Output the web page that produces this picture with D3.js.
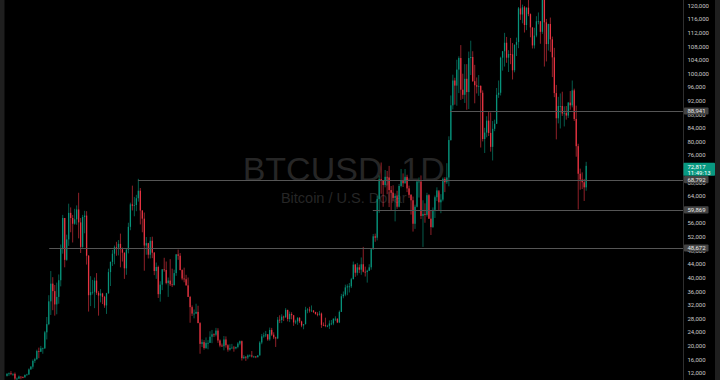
<!DOCTYPE html>
<html>
<head>
<meta charset="utf-8">
<script src="https://cdn.jsdelivr.net/npm/d3@7/dist/d3.min.js"></script>
<style>
  html, body { margin: 0; padding: 0; background: #000; }
  svg { display: block; }
</style>
</head>
<body>
<div id="chart"></div>
<script>
// BTCUSD weekly candles (values in thousands of USD), first week starts 2020-08-03
var firstWeek = Date.UTC(2020, 7, 3);
var firstOpenK = 11.1;

var closeK = [
  11.7, 11.85, 11.65, 11.7, 10.3, 10.3, 10.9, 10.75, 10.7, 11.4, 11.5, 13.0, 13.8, 15.5, 16.0, 18.4, 18.2, 19.2, 19.2, 23.9, 26.3, 33.0,
  38.2, 36.0, 32.1, 34.3, 39.2, 48.6, 57.5, 45.2, 51.2, 59.0, 57.5, 55.8, 57.1, 60.0, 56.2, 49.0, 57.8, 58.2, 46.4, 34.8, 35.7, 35.8, 39.1, 35.5,
  34.7, 35.3, 34.3, 31.8, 35.4, 41.6, 44.6, 47.0, 48.9, 48.8, 49.9, 48.3, 47.3, 42.7, 48.2, 54.9, 61.5, 61.1, 61.3, 63.3, 65.5, 59.7, 57.3, 49.4, 50.1, 46.7, 50.8, 47.3,
  41.9, 43.1, 35.1, 37.9, 42.4, 42.2, 38.4, 39.1, 38.0, 37.8, 41.3, 46.8, 46.4, 42.2, 39.7, 39.5, 37.7, 34.3, 31.3, 29.4, 29.4, 29.9, 26.6, 20.5, 21.0, 19.3,
  20.8, 20.8, 22.6, 23.3, 23.2, 24.4, 21.5, 20.0, 19.8, 21.8, 20.1, 18.8, 19.3, 19.4, 19.2, 19.6, 20.6, 21.3, 16.3, 16.7, 16.5, 17.1, 17.1, 16.8, 16.8, 16.6,
  17.1, 20.9, 22.7, 23.0, 23.3, 21.8, 24.6, 23.2, 22.4, 22.1, 27.6, 27.5, 28.5, 28.3, 30.5, 27.8, 29.3, 28.9, 26.8, 27.1, 28.1, 27.1, 25.9, 26.3, 30.5, 30.6,
  30.3, 30.3, 29.9, 29.3, 29.1, 29.4, 26.1, 26.0, 25.8, 25.8, 26.5, 26.5, 27.9, 27.9, 26.8, 29.9, 34.5, 35.0, 37.1, 37.4, 37.4, 39.5, 43.8, 41.4, 43.0, 42.3,
  43.9, 41.7, 41.6, 42.0, 43.0, 48.3, 52.1, 51.7, 63.1, 68.9, 68.4, 67.2, 69.6, 69.4, 65.7, 64.9, 63.4, 63.9, 60.8, 66.9, 68.5, 67.7, 69.6, 66.2, 64.3, 62.7,
  55.8, 60.8, 68.2, 68.2, 58.1, 58.7, 58.4, 64.2, 57.3, 54.8, 59.9, 63.6, 65.6, 62.1, 62.9, 69.0, 68.0, 69.4, 80.4, 90.6, 97.9, 96.4, 101.1, 104.5, 95.2, 93.7, 98.4,
  94.5, 104.5, 104.8, 97.7, 96.5, 96.1, 96.3, 94.3, 80.7, 82.6, 86.1, 82.5, 78.4, 83.7, 85.2, 93.7, 94.3, 104.6, 106.5, 109.0, 104.6, 105.7, 105.6, 100.9, 108.4, 109.2,
  119.1, 117.3, 119.4, 114.2, 119.3, 117.4, 113.5, 108.2, 111.1, 115.3, 115.3, 112.2, 123.5, 115.0, 108.6, 114.5, 110.0, 104.7, 94.2, 86.8, 90.4, 90.4, 88.2, 88.4, 87.6, 91.4,
  90.6, 95.0, 86.6, 78.6, 70.5, 68.8, 68.0, 66.5, 72.817
];

var highK = [
  11.9, 12.1, 12.5, 11.8, 12.1, 10.6, 11.2, 10.9, 10.95, 11.45, 11.7, 13.3, 14.0, 15.9, 16.4, 18.8, 19.4, 19.9, 19.4, 24.3, 28.4, 34.8,
  41.9, 40.1, 37.8, 38.5, 40.9, 49.7, 58.4, 57.5, 52.6, 61.7, 60.6, 58.4, 60.2, 61.2, 64.9, 57.5, 58.4, 59.6, 59.5, 46.6, 40.4, 39.3, 40.0, 41.3,
  36.0, 36.6, 35.5, 34.6, 35.5, 42.6, 44.7, 48.1, 49.4, 50.5, 51.0, 52.9, 48.8, 47.4, 48.4, 56.1, 62.0, 67.0, 63.7, 64.3, 69.0, 66.3, 59.8, 59.1, 51.9, 50.2, 51.9, 52.0,
  47.5, 44.4, 43.5, 38.9, 42.5, 45.8, 44.7, 40.0, 45.4, 42.6, 42.3, 46.9, 48.2, 47.2, 42.4, 42.9, 40.8, 40.0, 34.6, 31.8, 30.6, 32.3, 31.7, 26.9, 21.8, 21.6,
  22.4, 21.6, 24.2, 24.6, 23.6, 25.2, 25.1, 21.8, 20.6, 22.8, 22.7, 20.4, 20.4, 20.5, 19.9, 19.7, 21.0, 21.5, 21.5, 17.2, 16.9, 17.4, 17.4, 18.4, 17.0, 16.9,
  17.2, 21.3, 23.4, 23.8, 24.3, 23.4, 25.3, 25.2, 23.9, 22.6, 28.4, 28.9, 29.2, 28.8, 31.0, 30.5, 30.0, 29.8, 29.0, 27.6, 28.4, 28.4, 27.3, 26.3, 31.4, 31.0,
  31.4, 31.8, 30.4, 29.9, 29.8, 30.2, 29.7, 26.8, 28.2, 26.1, 27.4, 27.5, 28.0, 28.6, 28.0, 30.3, 35.2, 35.9, 37.9, 38.0, 38.4, 39.9, 44.7, 44.0, 44.3, 43.8,
  45.9, 49.0, 43.2, 42.3, 43.9, 48.6, 52.8, 52.9, 64.0, 70.0, 73.8, 68.4, 71.6, 71.3, 72.8, 66.9, 67.1, 64.7, 65.5, 67.5, 71.9, 70.6, 71.9, 70.2, 67.0, 64.5,
  63.8, 61.4, 68.4, 69.4, 70.0, 62.7, 61.8, 64.9, 64.5, 59.8, 60.6, 64.1, 66.5, 65.0, 64.5, 69.4, 69.5, 73.6, 81.5, 93.5, 99.6, 98.7, 104.0, 105.0, 108.3, 99.9, 102.7,
  102.7, 106.4, 109.6, 106.5, 102.5, 98.8, 99.5, 96.5, 95.0, 84.0, 87.4, 88.8, 88.5, 86.0, 86.4, 95.7, 97.9, 104.9, 106.6, 111.9, 110.7, 106.8, 110.4, 108.9, 108.5, 110.5,
  119.5, 123.2, 120.2, 119.8, 119.4, 124.5, 117.6, 113.5, 113.4, 116.8, 117.9, 115.3, 125.7, 126.2, 116.0, 114.6, 116.4, 110.8, 107.5, 96.6, 93.1, 94.1, 94.6, 90.3, 90.4, 91.6,
  94.8, 97.9, 95.5, 90.5, 79.3, 72.0, 70.9, 69.0, 74.0
];

var lowK = [
  10.9, 11.1, 11.3, 11.1, 9.9, 9.9, 10.2, 10.1, 10.4, 10.5, 11.2, 11.4, 12.9, 13.2, 14.9, 15.8, 16.3, 18.1, 17.6, 19.0, 21.8, 26.0,
  29.0, 30.4, 28.8, 29.2, 32.3, 37.4, 47.0, 43.0, 44.9, 49.3, 53.3, 50.3, 55.5, 55.5, 51.5, 47.2, 48.7, 53.0, 43.8, 30.0, 31.6, 35.0, 31.0, 34.9,
  28.8, 32.7, 32.2, 31.1, 29.3, 35.2, 37.5, 43.4, 43.9, 46.4, 46.5, 43.0, 44.7, 39.6, 40.8, 47.1, 53.9, 59.7, 58.0, 59.5, 62.3, 55.6, 53.3, 42.0, 46.7, 45.6, 45.6, 45.7,
  40.7, 39.6, 34.0, 32.9, 36.3, 41.7, 38.0, 34.3, 37.5, 37.2, 37.6, 40.5, 45.2, 42.1, 39.2, 38.6, 37.6, 34.3, 26.7, 28.7, 28.0, 29.3, 26.6, 17.6, 19.6, 18.8,
  19.0, 18.9, 20.8, 20.7, 22.5, 22.7, 20.8, 19.5, 19.6, 18.6, 19.4, 18.2, 18.5, 19.1, 18.2, 18.9, 19.2, 20.1, 15.6, 16.0, 15.5, 16.0, 16.7, 16.5, 16.4, 16.3,
  16.5, 17.1, 20.4, 22.3, 22.5, 21.4, 21.4, 22.8, 21.9, 19.6, 21.9, 26.6, 26.6, 27.2, 28.2, 27.1, 26.9, 27.7, 25.8, 26.3, 26.1, 26.6, 25.4, 24.8, 26.2, 29.5,
  29.7, 29.9, 29.6, 29.1, 28.6, 28.8, 25.2, 25.7, 25.4, 25.4, 24.9, 26.0, 26.0, 27.2, 26.6, 26.6, 29.9, 33.9, 34.5, 34.8, 35.6, 36.9, 39.5, 40.2, 40.6, 41.3,
  40.8, 41.5, 40.3, 38.5, 41.9, 42.3, 48.2, 50.5, 50.9, 59.0, 64.6, 60.8, 66.5, 64.5, 60.7, 59.6, 62.4, 56.5, 60.2, 60.6, 66.5, 66.6, 67.6, 65.1, 63.4, 58.5,
  53.5, 54.3, 60.6, 63.5, 57.2, 49.0, 56.1, 57.9, 57.2, 52.5, 54.6, 57.5, 62.5, 59.8, 58.9, 62.4, 65.1, 67.5, 66.8, 80.2, 89.4, 90.8, 90.5, 94.2, 92.2, 92.5, 91.3,
  89.3, 89.5, 99.5, 97.5, 91.2, 94.1, 93.4, 78.2, 80.0, 76.6, 81.2, 81.6, 77.0, 74.4, 83.0, 85.1, 92.8, 93.5, 100.8, 102.0, 103.1, 100.4, 102.7, 98.2, 100.3, 105.1,
  107.4, 115.7, 114.7, 112.0, 112.7, 116.8, 110.6, 107.3, 107.3, 110.6, 114.4, 108.7, 111.6, 102.0, 103.5, 106.7, 106.3, 98.9, 93.0, 80.6, 85.3, 83.8, 87.5, 84.4, 86.4, 86.9,
  89.3, 90.0, 86.0, 75.5, 60.0, 65.8, 66.0, 62.5, 65.5
];

// right price scale labels
var priceTicks = [12000, 16000, 20000, 24000, 28000, 32000, 36000, 40000, 44000, 48000, 52000, 56000,
  60000, 64000, 68000, 72000, 76000, 80000, 84000, 88000, 92000, 96000, 100000, 104000, 108000, 112000, 116000, 120000];

// horizontal rays drawn on the chart
var levelPrices = [88941, 68792, 59869, 48672];
var levelStarts = ["2024-11-12", "2021-11-10", "2024-02-14", "2021-01-02"];

var countdown = "11:49:13";
var symbolText = "BTCUSD, 1D";
var symbolName = "Bitcoin / U.S. Dollar";

var W = 720, H = 380;
var plotLeft = 4.5, plotRight = 683;

var candles = closeK.map(function(c, i) {
  return {
    date: d3.utcHour.offset(new Date(firstWeek), i * 168 + 84),
    open: (i === 0 ? firstOpenK : closeK[i - 1]) * 1000,
    high: highK[i] * 1000,
    low: lowK[i] * 1000,
    close: c * 1000
  };
});

var x = d3.scaleUtc()
  .domain([new Date(Date.UTC(2020, 6, 27)), new Date(Date.UTC(2027, 1, 9))])
  .range([4, plotRight]);

var y = d3.scaleLinear()
  .domain([12000, 120000])
  .range([372.8, 5.3]);

var svg = d3.select("#chart").append("svg")
  .attr("width", W)
  .attr("height", H);

svg.append("rect").attr("width", W).attr("height", H).attr("fill", "#000");

svg.append("defs").append("clipPath").attr("id", "plot")
  .append("rect").attr("x", plotLeft).attr("y", 0).attr("width", plotRight - plotLeft).attr("height", H);

// watermark
var wm = svg.append("g").attr("fill", "#262626").attr("text-anchor", "middle")
  .style("font-family", "'Liberation Sans', Arial, sans-serif");
wm.append("text").attr("x", (plotLeft + plotRight) / 2).attr("y", 181)
  .style("font-size", "34px").text(symbolText);
wm.append("text").attr("x", (plotLeft + plotRight) / 2).attr("y", 203)
  .style("font-size", "14.5px").text(symbolName);

var up = "#089981", down = "#f23645";
var colour = function(d) { return d.close >= d.open ? up : down; };

var plot = svg.append("g").attr("clip-path", "url(#plot)");

plot.append("g").selectAll("line")
  .data(candles)
  .join("line")
    .attr("x1", d => x(d.date))
    .attr("x2", d => x(d.date))
    .attr("y1", d => y(d.high))
    .attr("y2", d => y(d.low))
    .attr("stroke", colour)
    .attr("stroke-opacity", 0.85)
    .attr("stroke-width", 0.7);

plot.append("g").selectAll("rect")
  .data(candles)
  .join("rect")
    .attr("x", d => x(d.date) - 0.65)
    .attr("width", 1.3)
    .attr("y", d => Math.min(y(d.open), y(d.close)))
    .attr("height", d => Math.max(0.8, Math.abs(y(d.open) - y(d.close))))
    .attr("fill", colour)
    .attr("fill-opacity", 0.9);

// horizontal rays
plot.append("g").selectAll("line")
  .data(levelPrices)
  .join("line")
    .attr("x1", (d, i) => x(new Date(levelStarts[i])))
    .attr("x2", plotRight)
    .attr("y1", d => Math.round(y(d)) + 0.5)
    .attr("y2", d => Math.round(y(d)) + 0.5)
    .attr("stroke", "#555")
    .attr("stroke-width", 1);

// frame strips and scale separator
svg.append("rect").attr("x", 0).attr("width", plotLeft).attr("height", H).attr("fill", "#1f1f1f");
svg.append("rect").attr("x", 715).attr("width", 5).attr("height", H).attr("fill", "#1f1f1f");
svg.append("line").attr("x1", plotRight + 0.5).attr("x2", plotRight + 0.5).attr("y1", 0).attr("y2", H)
  .attr("stroke", "#2e2e2e");

// price scale
var axis = svg.append("g")
  .attr("transform", "translate(" + plotRight + ",0)")
  .call(d3.axisRight(y).tickValues(priceTicks).tickSize(0).tickPadding(4.5).tickFormat(d3.format(",")));
axis.select(".domain").remove();
axis.selectAll("text")
  .attr("fill", "#c9c9c9")
  .style("font-family", "Roboto, 'Liberation Sans', sans-serif")
  .style("font-size", "6px");

// ray price labels
var tags = svg.append("g").style("font-family", "Roboto, 'Liberation Sans', sans-serif").style("font-size", "6px");
levelPrices.forEach(function(p) {
  tags.append("rect").attr("x", plotRight + 1).attr("y", y(p) - 3.6).attr("width", 24.5).attr("height", 7.2)
    .attr("rx", 0.8).attr("fill", "#444");
  tags.append("text").attr("x", plotRight + 4.5).attr("y", y(p)).attr("dy", "0.35em")
    .attr("fill", "#e6e6e6").text(d3.format(",")(p));
});

// last price label with countdown
var last = candles[candles.length - 1].close;
tags.append("rect").attr("x", plotRight + 0.5).attr("y", y(last) - 3).attr("width", 31.5).attr("height", 13)
  .attr("rx", 0.8).attr("fill", up);
tags.append("text").attr("x", plotRight + 4.5).attr("y", y(last) + 0.8).attr("dy", "0.35em")
  .attr("fill", "#fff").text(d3.format(",.0f")(last));
tags.append("text").attr("x", plotRight + 4.5).attr("y", y(last) + 6.6).attr("dy", "0.35em")
  .attr("fill", "#fff").text(countdown);
</script>
</body>
</html>
